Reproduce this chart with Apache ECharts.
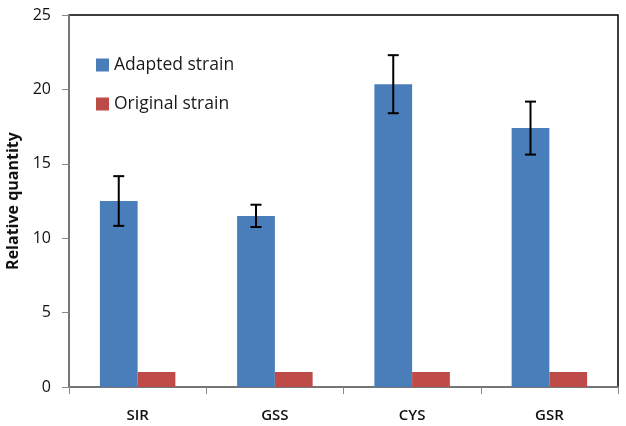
<!DOCTYPE html>
<html><head><meta charset="utf-8">
<script src="https://cdn.jsdelivr.net/npm/echarts@6/dist/echarts.min.js"></script>
<style>html,body{margin:0;padding:0;background:#fff}#c{width:626px;height:426px}</style>
</head><body><div id="c"></div>
<script>
const categories = ['SIR', 'GSS', 'CYS', 'GSR'];
const adapted = [12.5, 11.5, 20.35, 17.4];
const adaptedErr = [1.67, 0.75, 1.95, 1.78];
const original = [1, 1, 1, 1];
const yTicks = [0, 5, 10, 15, 20, 25];

const BAR_FRAC = 0.275;
const chart = echarts.init(document.getElementById('c'));
chart.setOption({
  animation: false,
  backgroundColor: '#fff',
  textStyle: { fontFamily: 'Open Sans' },
  grid: { left: 69, right: 8, top: 15, bottom: 39, show: true, borderColor: '#000', borderWidth: 1.5, containLabel: false, outerBoundsMode: 'none' },
  legend: {
    orient: 'vertical', left: 91, top: 51, itemGap: 21, itemWidth: 13, itemHeight: 13,
    textStyle: { fontSize: 17.5, color: '#1a1a1a', fontFamily: 'Open Sans' },
    data: [{ name: 'Adapted strain', icon: 'rect' }, { name: 'Original strain', icon: 'rect' }]
  },
  xAxis: {
    type: 'category', data: categories,
    axisLine: { lineStyle: { color: '#888', width: 1.5 } },
    axisTick: { show: true, length: 7, inside: false, lineStyle: { color: '#888' } },
    axisLabel: { fontSize: 15, color: '#111', fontWeight: 600, margin: 21 }
  },
  yAxis: {
    type: 'value', min: 0, max: 25, interval: 5,
    name: 'Relative quantity', nameLocation: 'middle', nameGap: 47,
    nameTextStyle: { fontSize: 16, fontWeight: 'bold', color: '#111' },
    axisLine: { show: true, lineStyle: { color: '#888', width: 1.5 } },
    axisTick: { show: true, length: 7, lineStyle: { color: '#888' } },
    axisLabel: { fontSize: 16, color: '#111', margin: 18, formatter: v => yTicks.includes(v) ? String(v) : '' },
    splitLine: { show: false }
  },
  series: [
    { name: 'Adapted strain', type: 'bar', data: adapted, barWidth: (BAR_FRAC*100)+'%', barGap: '0%', itemStyle: { color: '#4a7ebb' } },
    { name: 'Original strain', type: 'bar', data: original, barWidth: (BAR_FRAC*100)+'%', itemStyle: { color: '#be4b48' } },
    {
      name: 'err', type: 'custom', z: 10,
      data: adapted.map((v, i) => [i, v - adaptedErr[i], v + adaptedErr[i]]),
      renderItem: function (params, api) {
        const i = api.value(0);
        const lo = api.coord([i, api.value(1)]);
        const hi = api.coord([i, api.value(2)]);
        const band = api.size([1, 0])[0];
        const x = lo[0] - band * BAR_FRAC / 2;
        const cap = 5.5;
        const st = { stroke: '#000', lineWidth: 2 };
        return { type: 'group', children: [
          { type: 'line', shape: { x1: x, y1: lo[1], x2: x, y2: hi[1] }, style: st },
          { type: 'line', shape: { x1: x - cap, y1: lo[1], x2: x + cap, y2: lo[1] }, style: st },
          { type: 'line', shape: { x1: x - cap, y1: hi[1], x2: x + cap, y2: hi[1] }, style: st }
        ]};
      }
    }
  ]
});
</script></body></html>
